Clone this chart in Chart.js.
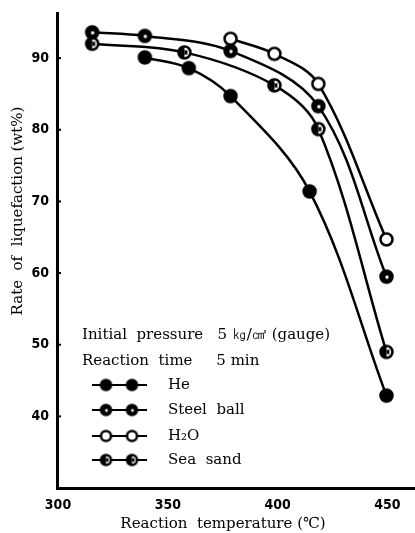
<!DOCTYPE html>
<html><head><meta charset="utf-8">
<script src="https://cdn.jsdelivr.net/npm/chart.js@4/dist/chart.umd.min.js"></script>
<style>html,body{margin:0;padding:0;background:#fff}#wrap{width:415px;height:533px}</style>
</head><body><div id="wrap"><canvas id="c" width="415" height="533"></canvas></div>
<script>
// Liquefaction rate vs. reaction temperature for four additives
const heTemp = [340, 360, 379, 415, 450];
const heRate = [90.1, 88.6, 84.7, 71.4, 42.9];
const steelTemp = [316, 340, 379, 419, 450];
const steelRate = [93.6, 93.1, 91.0, 83.3, 59.5];
const waterTemp = [379, 399, 419, 450];
const waterRate = [92.7, 90.6, 86.4, 64.7];
const sandTemp = [316, 358, 399, 419, 450];
const sandRate = [92.0, 90.8, 86.2, 80.1, 49.0];
const xTicks = [300, 350, 400, 450];
const yTicks = [40, 50, 60, 70, 80, 90];
const seriesNames = ['He', 'Steel  ball', 'H₂O', 'Sea  sand'];
const noteLines = ['Initial  pressure   5 ㎏/㎠ (gauge)', 'Reaction  time     5 min'];
const xTitle = 'Reaction  temperature (℃)';
const yTitle = 'Rate  of  liquefaction (wt%)';

const SERIF = "'DejaVu Serif', 'Liberation Serif', serif";
const NARROW = "'DejaVu Sans Condensed', 'Liberation Sans Narrow', sans-serif";

// Marker glyphs: filled, filled with light centre, open, half-filled
function makeMarker(kind, r) {
  const s = Math.ceil(2 * r + 5);
  const cv = document.createElement('canvas');
  cv.width = s; cv.height = s;
  const g = cv.getContext('2d');
  const c = s / 2;
  g.lineWidth = 2.5;
  g.strokeStyle = '#000';
  g.beginPath(); g.arc(c, c, r, 0, Math.PI * 2);
  if (kind === 'open') {
    g.fillStyle = '#fff'; g.fill(); g.stroke();
  } else if (kind === 'half') {
    g.fillStyle = '#fff'; g.fill();
    g.fillStyle = '#000';
    g.beginPath(); g.arc(c, c, r, Math.PI / 2, Math.PI * 1.5); g.closePath(); g.fill();
    g.beginPath(); g.arc(c, c, r, 0, Math.PI * 2); g.stroke();
    g.fillRect(c, c - r * 0.35, r * 0.5, r * 0.7);
  } else {
    g.fillStyle = '#000'; g.fill(); g.stroke();
    if (kind === 'dot') {
      g.fillStyle = '#fff';
      g.beginPath(); g.arc(c + 0.5, c + 0.5, r * 0.28, 0, Math.PI * 2); g.fill();
    }
  }
  return cv;
}

const kinds = ['solid', 'dot', 'open', 'half'];
const bigMarks = kinds.map(k => makeMarker(k, 6));
const smallMarks = kinds.map(k => makeMarker(k, 5));

const pairs = (xs, ys) => xs.map((x, i) => ({ x: x, y: ys[i] }));
const seriesData = [
  pairs(heTemp, heRate),
  pairs(steelTemp, steelRate),
  pairs(waterTemp, waterRate),
  pairs(sandTemp, sandRate)
];

const datasets = seriesData.map((d, i) => ({
  label: seriesNames[i],
  data: d,
  borderColor: '#000',
  borderWidth: 2.5,
  pointStyle: bigMarks[i],
  pointRadius: 6,
  tension: 0.35,
  fill: false
}));

const annotations = {
  id: 'annotations',
  afterDraw(chart) {
    const ctx = chart.ctx;
    const xs = chart.scales.x, ys = chart.scales.y;
    const area = chart.chartArea;
    ctx.save();
    // short inward ticks on the y axis
    ctx.strokeStyle = '#000'; ctx.lineWidth = 2;
    yTicks.forEach(v => {
      const py = ys.getPixelForValue(v);
      ctx.beginPath(); ctx.moveTo(area.left, py); ctx.lineTo(area.left + 4, py); ctx.stroke();
    });
    ctx.fillStyle = '#000';
    // x tick labels
    ctx.font = 'bold 14px ' + NARROW;
    ctx.textAlign = 'center'; ctx.textBaseline = 'middle';
    xTicks.forEach(v => ctx.fillText(String(v), xs.getPixelForValue(v) + 1, 505));
    // axis titles
    ctx.font = '15px ' + SERIF;
    ctx.fillText(xTitle, 223, 524);
    ctx.save();
    ctx.translate(18, 211); ctx.rotate(-Math.PI / 2);
    ctx.fillText(yTitle, 0, 0);
    ctx.restore();
    // experimental conditions
    ctx.textAlign = 'left';
    ctx.fillText(noteLines[0], 82, 335);
    ctx.fillText(noteLines[1], 82, 361);
    // legend
    const rows = [385, 410, 436, 460];
    rows.forEach((y, i) => {
      ctx.strokeStyle = '#000'; ctx.lineWidth = 2;
      ctx.beginPath(); ctx.moveTo(92, y); ctx.lineTo(147, y); ctx.stroke();
      const m = smallMarks[i];
      ctx.drawImage(m, 106 - m.width / 2, y - m.height / 2);
      ctx.drawImage(m, 132 - m.width / 2, y - m.height / 2);
      ctx.fillStyle = '#000';
      ctx.fillText(chart.data.datasets[i].label, 168, y);
    });
    ctx.restore();
  }
};

new Chart(document.getElementById('c'), {
  type: 'line',
  data: { datasets: datasets },
  options: {
    responsive: false,
    devicePixelRatio: 1,
    animation: false,
    layout: { autoPadding: false, padding: { top: 13, right: 0, left: 0, bottom: 0 } },
    plugins: { legend: { display: false }, tooltip: { enabled: false } },
    scales: {
      x: {
        type: 'linear',
        min: 300, max: 463,
        afterBuildTicks: s => { s.ticks = xTicks.map(v => ({ value: v })); },
        afterFit: s => { s.height = 45; },
        grid: { display: false, drawTicks: false },
        border: { display: true, color: '#000', width: 3 },
        ticks: { display: false }
      },
      y: {
        type: 'linear',
        min: 30, max: 96.3,
        afterBuildTicks: s => { s.ticks = yTicks.map(v => ({ value: v })); },
        afterFit: s => { s.width = 57; s.paddingTop = 0; s.paddingBottom = 0; },
        grid: { display: false, drawTicks: false },
        border: { display: true, color: '#000', width: 3 },
        ticks: { color: '#000', padding: 8, font: { family: NARROW, size: 14, weight: 'bold' } }
      }
    }
  },
  plugins: [annotations]
});
</script>
</body></html>
